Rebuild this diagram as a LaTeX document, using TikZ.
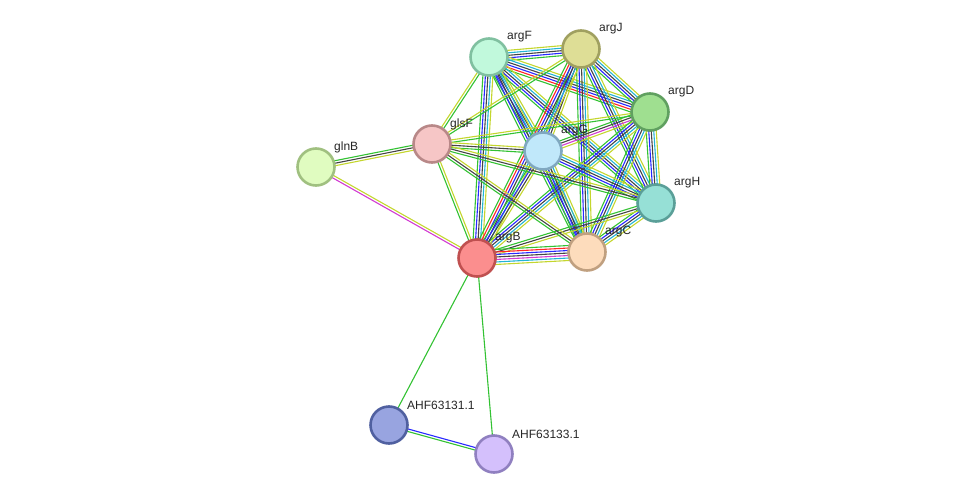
\documentclass[tikz,border=0pt]{standalone}
\usepackage{fontspec}
\setmainfont{Liberation Sans}
\usetikzlibrary{calc}
\pgfdeclarelayer{background}
\pgfsetlayers{background,main}
\definecolor{cnb}{HTML}{33C233}
\definecolor{cfu}{HTML}{FF2626}
\definecolor{cco}{HTML}{2828FF}
\definecolor{ccx}{HTML}{444444}
\definecolor{cex}{HTML}{D23CD2}
\definecolor{cdb}{HTML}{22B4D4}
\definecolor{ctm}{HTML}{C4D62E}
\tikzset{
  edge/.style={line width=1.1pt},
  prot/.style={circle,minimum size=37pt,line width=2.6pt,inner sep=0pt},
  lab/.style={anchor=west,font=\fontsize{12}{14}\selectfont,text=black!85,inner sep=0pt}
}
\newcommand\sedge[3]{%
  \def\nn{0}%
  \foreach \c in {#3}{\xdef\nn{\the\numexpr\nn+1\relax}}%
  \foreach \c [count=\i] in {#3}{%
    \pgfmathsetmacro\off{(\i-(\nn+1)/2)*2.5}%
    \draw[edge,\c] ($(#1.center)!\off pt!90:(#2.center)$) -- ($(#2.center)!\off pt!-90:(#1.center)$);
  }}
\begin{document}
\begin{tikzpicture}[x=1pt,y=-1pt]
\useasboundingbox (0,0) rectangle (976,500);
% nodes
\node[prot,fill={rgb,255:red,193;green,249;blue,220},draw={rgb,255:red,128;green,192;blue,160}] (F) at (489,57) {};
\node[prot,fill={rgb,255:red,222;green,222;blue,150},draw={rgb,255:red,160;green,160;blue,96}] (J) at (581,49) {};
\node[prot,fill={rgb,255:red,159;green,223;blue,144},draw={rgb,255:red,96;green,160;blue,96}] (D) at (650,112) {};
\node[prot,fill={rgb,255:red,192;green,232;blue,250},draw={rgb,255:red,128;green,168;blue,192}] (G) at (543,151) {};
\node[prot,fill={rgb,255:red,246;green,198;blue,198},draw={rgb,255:red,184;green,136;blue,136}] (S) at (432,144) {};
\node[prot,fill={rgb,255:red,224;green,252;blue,192},draw={rgb,255:red,160;green,192;blue,128}] (N) at (316,167) {};
\node[prot,fill={rgb,255:red,150;green,224;blue,214},draw={rgb,255:red,90;green,159;blue,152}] (H) at (656,203) {};
\node[prot,fill={rgb,255:red,253;green,220;blue,188},draw={rgb,255:red,192;green,160;blue,128}] (C) at (587,252) {};
\node[prot,fill={rgb,255:red,251;green,142;blue,142},draw={rgb,255:red,192;green,80;blue,80}] (B) at (477,258) {};
\node[prot,fill={rgb,255:red,152;green,164;blue,224},draw={rgb,255:red,80;green,96;blue,160}] (A1) at (389,425) {};
\node[prot,fill={rgb,255:red,212;green,192;blue,252},draw={rgb,255:red,144;green,128;blue,192}] (A2) at (494,454) {};
% labels
\node[lab] (Fl) at ($(F)+(18,-20)$) {argF};
\node[lab] (Jl) at ($(J)+(18,-20)$) {argJ};
\node[lab] (Dl) at ($(D)+(18,-20)$) {argD};
\node[lab] (Gl) at ($(G)+(18,-20)$) {argG};
\node[lab] (Sl) at ($(S)+(18,-20)$) {glsF};
\node[lab] (Nl) at ($(N)+(18,-20)$) {glnB};
\node[lab] (Hl) at ($(H)+(18,-20)$) {argH};
\node[lab] (Cl) at ($(C)+(18,-20)$) {argC};
\node[lab] (Bl) at ($(B)+(18,-20)$) {argB};
\node[lab] (A1l) at ($(A1)+(18,-20)$) {AHF63131.1};
\node[lab] (A2l) at ($(A2)+(18,-20)$) {AHF63133.1};
% edges
\begin{pgfonlayer}{background}
\sedge{F}{J}{cnb,cco,ccx,cdb,ctm}
\sedge{F}{D}{cnb,cfu,cco,ccx,cdb,ctm}
\sedge{F}{G}{cnb,cco,ccx,cdb,ctm}
\sedge{F}{H}{cnb,cco,ccx,cdb,ctm}
\sedge{F}{C}{cnb,cco,ccx,cdb,ctm}
\sedge{F}{B}{cnb,cco,ccx,cdb,ctm}
\sedge{J}{D}{cnb,cco,ccx,cdb,ctm}
\sedge{J}{G}{cnb,cco,ccx,ctm}
\sedge{J}{H}{cnb,cco,ccx,cdb,ctm}
\sedge{J}{C}{cnb,cco,ccx,cdb,ctm}
\sedge{J}{B}{cnb,cfu,cco,ccx,cdb,ctm}
\sedge{D}{G}{cnb,ccx,cex,ctm}
\sedge{D}{H}{cnb,cco,ccx,cdb,ctm}
\sedge{D}{C}{cnb,cco,ccx,cdb,ctm}
\sedge{D}{B}{cnb,cco,ccx,cdb,ctm}
\sedge{G}{H}{cnb,cco,ccx,cdb,ctm}
\sedge{G}{C}{cnb,cco,ccx,cdb,ctm}
\sedge{G}{B}{cnb,cco,ccx,ctm}
\sedge{H}{C}{cnb,cco,ccx,cdb,ctm}
\sedge{H}{B}{cnb,ccx,ctm}
\sedge{C}{B}{cnb,cfu,cco,ccx,cex,cdb,ctm}
\sedge{S}{F}{cnb,ctm}
\sedge{S}{J}{cnb,ctm}
\sedge{S}{D}{cnb,ctm}
\sedge{S}{G}{cnb,ccx,ctm}
\sedge{S}{H}{cnb,ccx,ctm}
\sedge{S}{C}{cnb,ccx,ctm}
\sedge{S}{B}{cnb,ctm}
\sedge{S}{N}{cnb,ccx,ctm}
\sedge{N}{B}{cex,ctm}
\sedge{B}{A1}{cnb}
\sedge{B}{A2}{cnb}
\sedge{A1}{A2}{cnb,cco}
\end{pgfonlayer}
\end{tikzpicture}
\end{document}
